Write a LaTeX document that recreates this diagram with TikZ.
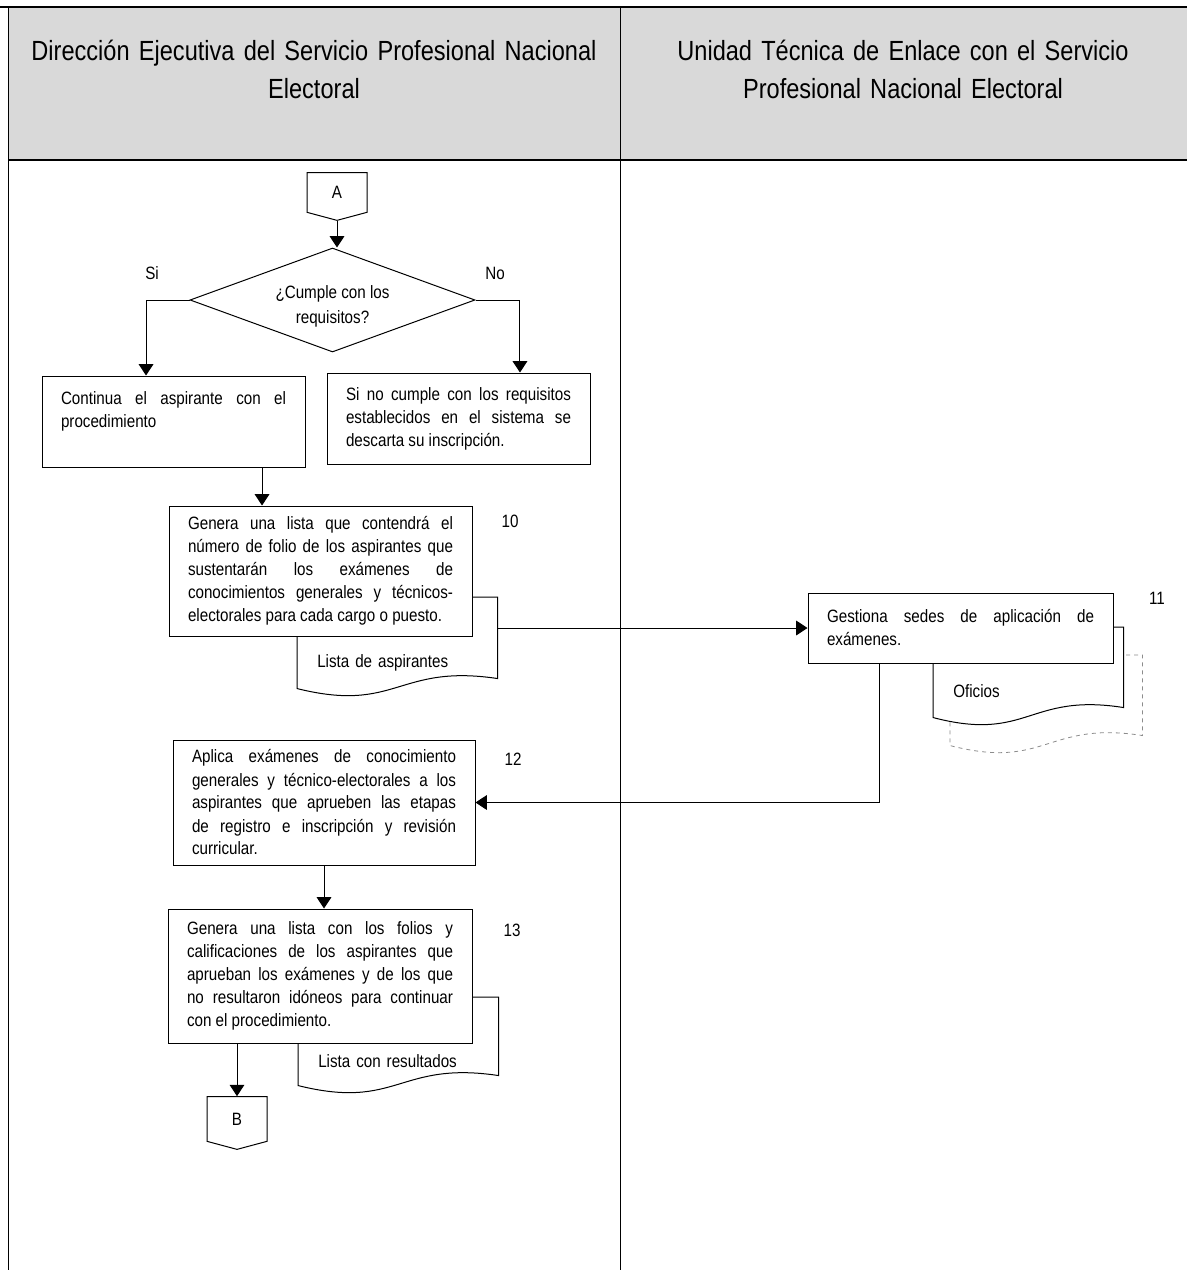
\documentclass[tikz,border=0pt]{standalone}
\usepackage{fontspec}
\setmainfont[FakeStretch=0.85]{Liberation Sans}
\usetikzlibrary{arrows.meta,positioning,calc,shapes.geometric,shapes.symbols,backgrounds}
\definecolor{hdrGray}{HTML}{D9D9D9}
\definecolor{copyGray}{HTML}{8C8C8C}
\hyphenpenalty=10000
\tikzset{
  % Lane heading, large and centred.
  flow/head/.style={font=\fontsize{20.8}{28.5}\selectfont, align=center, inner sep=0pt},
  % Process step: justified text in a plain box.
  flow/box/.style={
    draw=black, fill=white, line width=0.75pt, align=justify,
    inner xsep=14.25pt, inner ysep=0pt, font=\fontsize{13.4}{17.25}\selectfont
  },
  % Decision.
  flow/dec/.style={
    draw=black, fill=white, line width=0.75pt, diamond, aspect=2.74, inner sep=0pt,
    align=center, font=\fontsize{13.4}{18.75}\selectfont
  },
  % Off-page connector.
  flow/off/.style={
    draw=black, fill=white, line width=0.75pt, signal, signal to=south,
    signal pointer angle=150, inner sep=0pt, font=\fontsize{13.4}{17.25}\selectfont
  },
  % Document produced by a step; the outline is drawn with \docoutline.
  flow/doc/.style={
    anchor=north west, inner ysep=0pt, inner xsep=15pt, align=left,
    font=\fontsize{13.4}{17.25}\selectfont
  },
  flow/arrow/.style={-{Triangle[length=8.5pt,width=11pt]}, line width=0.75pt, draw=black},
  flow/label/.style={font=\fontsize{13.4}{17.25}\selectfont, inner sep=1pt},
}
\newcommand{\docoutline}[1]{(#1.north west) -- (#1.north east) -- (#1.south east)
  .. controls ($(#1.south)+(0,11.25pt)$) and ($(#1.south)+(0,-26.25pt)$) ..
  ($(#1.south west)+(0,-7.5pt)$) -- cycle}

\begin{document}
\begin{tikzpicture}[x=0.75pt,y=-0.75pt]
  \useasboundingbox (0,0) rectangle (1187,1270);
  \fill[hdrGray] (8,7) rectangle (1187,160);
  \draw[line width=1.6pt] (0,7) -- (1187,7);
  \draw[line width=1.4pt] (8,160) -- (1187,160);
  \draw[line width=0.75pt] (8,7) -- (8,1270);
  \draw[line width=0.75pt] (620,7) -- (620,1270);
  \node[flow/head, text width=470pt] (hdDE) at (314,69)
       {Dirección Ejecutiva del Servicio Profesional Nacional\\Electoral};
  \node[flow/head, text width=420pt] (hdUT) at (903,69)
       {Unidad Técnica de Enlace con el Servicio\\Profesional Nacional Electoral};

  \node[flow/off, minimum width=45pt, minimum height=30.75pt] (A) at (337,192.5) {A};
  \node[flow/dec, minimum width=213.75pt, minimum height=78pt] (dia) at (332.5,300)
       {\rule{0pt}{20pt}¿Cumple con los\\requisitos?};
  \node[flow/label] (lblSi) at (152,273) {Si};
  \node[flow/label] (lblNo) at (495,273) {No};
  \node[flow/box, text width=168.75pt, minimum height=68.25pt] (b1) at (173.5,421.5)
       {Continua el aspirante con el\linebreak procedimiento\par\mbox{}};
  \node[flow/box, text width=168.75pt, minimum height=68.25pt] (b2) at (458.5,418.5)
       {Si no cumple con los requisitos\linebreak establecidos en el sistema se\linebreak descarta su inscripción.};

  \node[flow/doc, text width=120pt, text height=52.5pt, text depth=8.25pt] (lst1) at (297,597)
       {Lista de aspirantes};
  \node[flow/doc, minimum width=144pt, minimum height=60pt, inner xsep=0pt] (ofiCopy) at (950,655) {};
  \node[flow/doc, text width=112.5pt, text height=52.5pt, text depth=7.5pt] (ofi) at (933,627)
       {Oficios};
  \node[flow/doc, text width=120pt, text height=52.5pt, text depth=6pt] (lst2) at (298,997)
       {Lista con resultados};
  \begin{scope}[on background layer]
    \draw[copyGray, dashed, line width=0.6pt, fill=white] \docoutline{ofiCopy};
    \draw[line width=0.75pt, fill=white] \docoutline{ofi};
    \draw[line width=0.75pt, fill=white] \docoutline{lst1};
    \draw[line width=0.75pt, fill=white] \docoutline{lst2};
  \end{scope}

  \node[flow/box, text width=198.75pt, minimum height=97.5pt] (b3) at (320.5,571)
       {Genera una lista que contendrá el\linebreak número de folio de los aspirantes que\linebreak
        sustentarán los exámenes de\linebreak conocimientos generales y técnicos-\linebreak
        electorales para cada cargo o puesto.};
  \node[flow/label] (n10) at (510,521) {10};
  \node[flow/box, text width=200.25pt, minimum height=52.5pt] (b11) at (960.5,628)
       {Gestiona sedes de aplicación de\linebreak exámenes.};
  \node[flow/label] (n11) at (1157,598) {11};
  \node[flow/box, text width=198pt, minimum height=93.75pt] (b12) at (324,802.5)
       {Aplica exámenes de conocimiento\linebreak generales y técnico-electorales a los\linebreak
        aspirantes que aprueben las etapas\linebreak de registro e inscripción y revisión\linebreak
        curricular.};
  \node[flow/label] (n12) at (513,759) {12};
  \node[flow/box, text width=199.5pt, minimum height=100.5pt] (b13) at (320,976)
       {Genera una lista con los folios y\linebreak calificaciones de los aspirantes que\linebreak
        aprueban los exámenes y de los que\linebreak no resultaron idóneos para continuar\linebreak
        con el procedimiento.};
  \node[flow/label] (n13) at (512,930) {13};
  \node[flow/off, minimum width=45pt, minimum height=34.5pt] (B) at (237,1119) {B};

  \draw[flow/arrow] (A.south) -- (A.south |- dia.north);
  \draw[flow/arrow] (dia.west) -| ([xshift=-20.6pt]b1.north);
  \draw[flow/arrow] (dia.east) -| ([xshift=46.1pt]b2.north);
  \draw[flow/arrow] ([xshift=66.4pt]b1.south) -- ([xshift=66.4pt]b1.south |- b3.north);
  \draw[flow/arrow] (lst1.east |- b11.west) -- (b11.west);
  \draw[flow/arrow] ([xshift=-61.1pt]b11.south) |- (b12.east);
  \draw[flow/arrow] (b12.south) -- (b12.south |- b13.north);
  \draw[flow/arrow] (B.north |- b13.south) -- (B.north);
\end{tikzpicture}
\end{document}
